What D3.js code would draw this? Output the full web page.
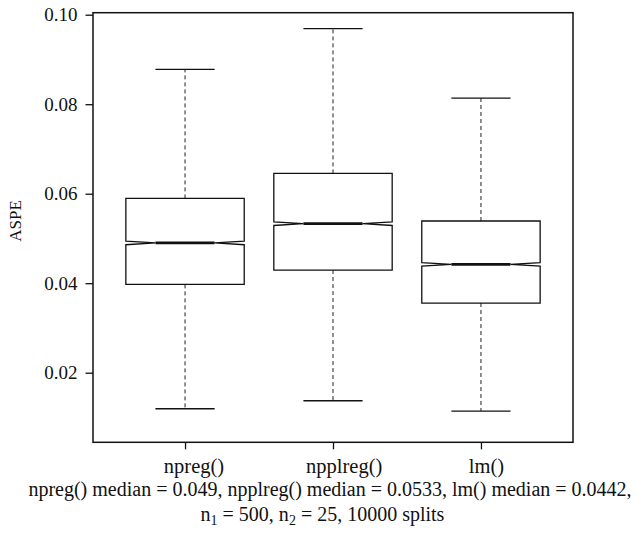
<!DOCTYPE html>
<html>
<head>
<meta charset="utf-8">
<script src="https://cdn.jsdelivr.net/npm/d3@7"></script>
<style>
  html, body { margin: 0; padding: 0; background: #fff; }
  svg text { font-family: "Liberation Serif", "DejaVu Serif", serif; fill: #111; }
</style>
</head>
<body>
<svg id="chart" width="639" height="539"></svg>
<script>
// Five-number summaries of ASPE across 10000 random splits
const categories   = ["npreg()", "npplreg()", "lm()"];
const lowerWhisker = [0.01195, 0.01374, 0.01143];
const q1           = [0.03974, 0.04294, 0.03557];
const medians      = [0.049, 0.0533, 0.0442];
const q3           = [0.05895, 0.06454, 0.0539];
const upperWhisker = [0.0878, 0.09687, 0.08138];
const notchHalf    = [0.0004, 0.0004, 0.0004];
const yTicks       = [0.02, 0.04, 0.06, 0.08, 0.10];

const FONT = '"Liberation Serif", "DejaVu Serif", serif';

const svg = d3.select("#chart");
const plot = { left: 93, right: 573, top: 12.7, bottom: 442.3 };

const x = d3.scaleLinear().domain([0.378, 3.622]).range([plot.left, plot.right]);
const y = d3.scaleLinear().domain([0.00445, 0.10045]).range([plot.bottom, plot.top]);

const boxW = 0.8, capW = 0.4;

const boxes = categories.map((c, i) => ({
  name: c, pos: i + 1,
  lo: lowerWhisker[i], q1: q1[i], med: medians[i], q3: q3[i], hi: upperWhisker[i], notch: notchHalf[i]
}));

const g = svg.append("g");

// whiskers (dashed) and staples
g.selectAll(".whisk").data(boxes).join("g").each(function(d) {
  const s = d3.select(this);
  [[d.q3, d.hi], [d.q1, d.lo]].forEach(([a, b]) => {
    s.append("line").attr("x1", x(d.pos)).attr("x2", x(d.pos))
      .attr("y1", y(a)).attr("y2", y(b))
      .attr("stroke", "#222").attr("stroke-width", 1).attr("stroke-dasharray", "4,3");
  });
  [d.hi, d.lo].forEach(v => {
    s.append("line").attr("x1", x(d.pos - capW / 2)).attr("x2", x(d.pos + capW / 2))
      .attr("y1", y(v)).attr("y2", y(v))
      .attr("stroke", "#111").attr("stroke-width", 1.3);
  });
});

// notched boxes
g.selectAll(".box").data(boxes).join("path")
  .attr("d", d => {
    const l = x(d.pos - boxW / 2), r = x(d.pos + boxW / 2);
    const il = x(d.pos - boxW / 4), ir = x(d.pos + boxW / 4);
    const pts = [
      [l, y(d.q1)], [l, y(d.med - d.notch)], [il, y(d.med)], [l, y(d.med + d.notch)], [l, y(d.q3)],
      [r, y(d.q3)], [r, y(d.med + d.notch)], [ir, y(d.med)], [r, y(d.med - d.notch)], [r, y(d.q1)]
    ];
    return d3.line()(pts) + "Z";
  })
  .attr("fill", "#fff").attr("stroke", "#111").attr("stroke-width", 1.3);

// medians
g.selectAll(".med").data(boxes).join("line")
  .attr("x1", d => x(d.pos - boxW / 4)).attr("x2", d => x(d.pos + boxW / 4))
  .attr("y1", d => y(d.med)).attr("y2", d => y(d.med))
  .attr("stroke", "#111").attr("stroke-width", 2.8);

// frame
svg.append("rect")
  .attr("x", plot.left).attr("y", plot.top)
  .attr("width", plot.right - plot.left).attr("height", plot.bottom - plot.top)
  .attr("fill", "none").attr("stroke", "#111").attr("stroke-width", 1.5);

// y axis
const yAxis = d3.axisLeft(y).tickValues(yTicks).tickFormat(d3.format(".2f")).tickSize(7.5).tickPadding(8);
const ya = svg.append("g").attr("transform", `translate(${plot.left},0)`).call(yAxis)
  .attr("font-family", FONT).attr("font-size", 19);
ya.select(".domain").remove();
ya.selectAll(".tick line").attr("stroke", "#111").attr("stroke-width", 1.3);
ya.selectAll(".tick text").attr("fill", "#111");

// x axis
const xAxis = d3.axisBottom(x).tickValues(boxes.map(b => b.pos)).tickFormat((d, i) => categories[i]).tickSize(7).tickPadding(9.4);
const xa = svg.append("g").attr("transform", `translate(0,${plot.bottom})`).call(xAxis)
  .attr("font-family", FONT).attr("font-size", 20.5);
xa.select(".domain").remove();
xa.selectAll(".tick line").attr("stroke", "#111").attr("stroke-width", 1.3);
xa.selectAll(".tick text").attr("fill", "#111")
  .each(function() {
    const w = this.getComputedTextLength();
    d3.select(this).attr("text-anchor", "start").attr("x", -0.36 * w);
  });

// y label
svg.append("text")
  .attr("transform", "translate(21,221) rotate(-90)")
  .attr("text-anchor", "middle")
  .attr("font-family", FONT)
  .attr("font-size", 17)
  .text("ASPE");

// caption
const cap = svg.append("g").attr("font-family", FONT).attr("font-size", 20);
cap.append("text").attr("x", 330).attr("y", 496).attr("text-anchor", "middle")
  .text(categories.map((c, i) => `${c} median = ${medians[i]}`).join(", ") + ",");
const l2 = cap.append("text").attr("x", 322.5).attr("y", 521).attr("text-anchor", "middle");
l2.append("tspan").text("n");
l2.append("tspan").attr("font-size", 14).attr("dy", 4).text("1");
l2.append("tspan").attr("dy", -4).text(" = 500, n");
l2.append("tspan").attr("font-size", 14).attr("dy", 4).text("2");
l2.append("tspan").attr("dy", -4).text(" = 25, 10000 splits");
</script>
</body>
</html>
